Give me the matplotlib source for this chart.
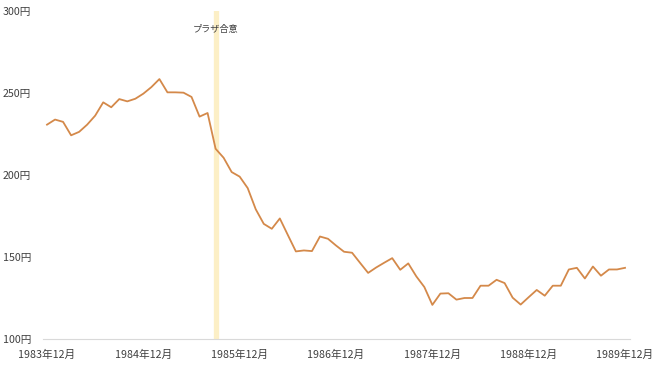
import matplotlib
matplotlib.use("Agg")
import matplotlib.pyplot as plt

plt.rcParams['font.family'] = ['Noto Sans CJK JP', 'DejaVu Sans']

# ドル円 月末レート (1983年12月〜1989年12月)
rate = [230.7, 233.8, 232.4, 224.2, 226.3, 230.7, 236.2, 244.3, 241.3, 246.3, 244.9, 246.5,
        249.6, 253.6, 258.5, 250.4, 250.4, 250.2, 247.6, 235.6, 237.8, 216.0, 210.5, 201.8,
        199.0, 192.0, 179.1, 170.2, 167.2, 173.5, 163.4, 153.4, 154.0, 153.6, 162.5, 161.1,
        157.0, 153.2, 152.6, 146.4, 140.3, 143.6, 146.5, 149.3, 142.2, 146.1, 138.2, 131.7,
        120.8, 127.7, 127.9, 124.0, 125.0, 125.0, 132.5, 132.5, 136.1, 134.1, 125.2, 121.0,
        125.5, 129.9, 126.4, 132.5, 132.5, 142.4, 143.4, 136.9, 144.2, 138.6, 142.4, 142.4,
        143.4]
x_labels = ['1983年12月', '1984年12月', '1985年12月', '1986年12月',
            '1987年12月', '1988年12月', '1989年12月']
y_ticks = [100, 150, 200, 250, 300]
plaza_idx = 21  # 1985年9月
plaza_label = 'プラザ合意'

fig = plt.figure(figsize=(6.6, 3.71), dpi=100)
ax = fig.add_axes([43 / 660, 32 / 371, 587 / 660, 328 / 371])

idx = list(range(len(rate)))
ax.axvline(plaza_idx, color='#fcefc6', lw=3.8, zorder=1)
ax.plot(idx, rate, color='#d4894a', lw=1.3, zorder=3)
ax.text(plaza_idx, 289, plaza_label, ha='center', va='center',
        fontsize=6.6, color='#404040', zorder=4)

ax.set_xlim(-0.5, 72.62)
ax.set_ylim(100, 300)
ax.set_xticks(idx[::12])
ax.set_xticklabels(x_labels)
ax.set_yticks(y_ticks)
ax.set_yticklabels([f'{v}円' for v in y_ticks])

for s in ['top', 'right', 'left']:
    ax.spines[s].set_visible(False)
ax.spines['bottom'].set_color('#d9d9d9')
ax.tick_params(axis='both', length=0, labelsize=7.7, labelcolor='#404040')
ax.tick_params(axis='x', pad=8)
ax.tick_params(axis='y', pad=29)
for lbl in ax.get_yticklabels():
    lbl.set_horizontalalignment('left')

fig.savefig('out.png', dpi=100, facecolor='white')
